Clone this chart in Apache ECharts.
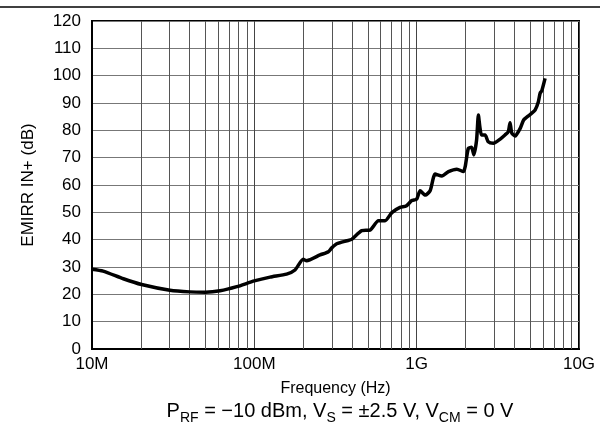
<!DOCTYPE html>
<html>
<head>
<meta charset="utf-8">
<script src="https://cdn.jsdelivr.net/npm/echarts@6/dist/echarts.min.js"></script>
<style>
  html, body { margin: 0; padding: 0; background: #fff; }
  #chart { width: 600px; height: 429px; }
</style>
</head>
<body>
<div id="chart"></div>
<script>
// frequency (Hz) and EMIRR IN+ (dB)
const freqHz = [
  10e6, 11.7e6, 15.6e6, 20.2e6, 30.2e6, 40e6, 50e6, 61.5e6, 78e6, 100e6,
  125e6, 158e6, 178e6, 200e6, 210e6, 254e6, 286e6, 300e6, 322e6, 371e6,
  398e6, 459e6, 516e6, 581e6, 639e6, 703e6, 790e6, 861e6, 933e6, 1.0e9,
  1.05e9, 1.13e9, 1.21e9, 1.30e9, 1.43e9, 1.57e9, 1.77e9, 1.94e9, 1.99e9, 2.08e9,
  2.18e9, 2.25e9, 2.34e9, 2.40e9, 2.45e9, 2.51e9, 2.64e9, 2.76e9, 2.97e9, 3.27e9,
  3.5e9, 3.67e9, 3.76e9, 3.85e9, 4.04e9, 4.34e9, 4.56e9, 4.88e9, 5.1e9, 5.36e9,
  5.62e9, 5.76e9, 5.9e9, 6.18e9
]
const emirrDb = [
  29.2, 28.5, 25.7, 23.6, 21.5, 20.9, 20.8, 21.3, 22.8, 24.9,
  26.3, 27.4, 28.9, 32.8, 32.3, 34.4, 35.6, 37.0, 38.5, 39.6,
  40.1, 43.3, 43.5, 46.9, 46.9, 49.9, 51.8, 52.3, 54.3, 54.8,
  57.9, 56.3, 57.9, 64.0, 63.3, 64.9, 65.8, 64.9, 66.7, 73.4,
  73.8, 71.0, 76.5, 85.6, 81.3, 78.3, 78.3, 75.8, 75.3, 76.8,
  78.3, 79.5, 82.8, 79.1, 77.9, 80.7, 83.8, 85.3, 86.2, 87.4,
  90.5, 93.6, 94.5, 99.0
]
const decadeLabels = { 7: '10M', 8: '100M', 9: '1G', 10: '10G' }
const decades = [1e7, 1e8, 1e9]

const font = 'Liberation Sans, Arial, sans-serif'

// minor log grid lines 2..9 in every decade
const minorLines = []
decades.forEach(d => {
  for (let k = 2; k <= 9; k++) minorLines.push({ xAxis: k * d })
})

const chart = echarts.init(document.getElementById('chart'))
const option = {
  backgroundColor: '#fff',
  animation: false,
  textStyle: { fontFamily: font },
  title: {
    left: 335,
    top: 392,
    textAlign: 'center',
    text: '{n|P}{s|RF}{n| = \u221210 dBm, V}{s|S}{n| = \u00b12.5 V, V}{s|CM}{n| = 0 V}',
    textStyle: {
      fontWeight: 'normal',
      rich: {
        n: { fontSize: 20, fontWeight: 'normal', color: '#000', fontFamily: font, lineHeight: 24, verticalAlign: 'bottom' },
        s: { fontSize: 14, fontWeight: 'normal', color: '#000', fontFamily: font, lineHeight: 18, verticalAlign: 'bottom', padding: [0, 0, -4, 0] }
      }
    }
  },
  graphic: [{
    type: 'line',
    shape: { x1: 0, y1: 7, x2: 600, y2: 7 },
    style: { stroke: '#000', lineWidth: 1.5 }
  }],
  grid: {
    left: 92,
    right: 21,
    top: 21,
    bottom: 80,
    show: true,
    borderColor: '#000',
    borderWidth: 2,
    backgroundColor: 'transparent'
  },
  xAxis: {
    type: 'log',
    logBase: 10,
    min: 1e7,
    max: 1e10,
    name: 'Frequency (Hz)',
    nameLocation: 'middle',
    nameGap: 32,
    nameTextStyle: { fontSize: 16, color: '#000', fontFamily: font },
    axisLine: { show: true, lineStyle: { color: '#000', width: 2 } },
    axisTick: { show: false },
    axisLabel: {
      fontSize: 17,
      color: '#000',
      margin: 7,
      formatter: v => decadeLabels[Math.round(Math.log10(v))] || ''
    },
    splitLine: { show: true, lineStyle: { color: '#444', width: 1 } }
  },
  yAxis: {
    type: 'value',
    min: 0,
    max: 120,
    interval: 10,
    name: 'EMIRR IN+ (dB)',
    nameLocation: 'middle',
    nameGap: 55,
    nameTextStyle: { fontSize: 17, color: '#000', fontFamily: font },
    axisLine: { show: true, lineStyle: { color: '#000', width: 2 } },
    axisTick: { show: false },
    axisLabel: { fontSize: 17, color: '#000', margin: 11 },
    splitLine: { show: true, lineStyle: { color: '#777', width: 1 } }
  },
  series: [
    {
      type: 'line',
      data: [],
      z: 1,
      silent: true,
      markLine: {
        silent: true,
        symbol: ['none', 'none'],
        label: { show: false },
        lineStyle: { color: '#555', width: 1, type: 'solid' },
        data: minorLines
      }
    },
    {
      name: 'EMIRR IN+',
      type: 'line',
      z: 5,
      showSymbol: false,
      smooth: 0.2,
      lineStyle: { color: '#000', width: 3.5 },
      data: freqHz.map((f, i) => [f, emirrDb[i]])
    }
  ]
}
chart.setOption(option)
</script>
</body>
</html>
